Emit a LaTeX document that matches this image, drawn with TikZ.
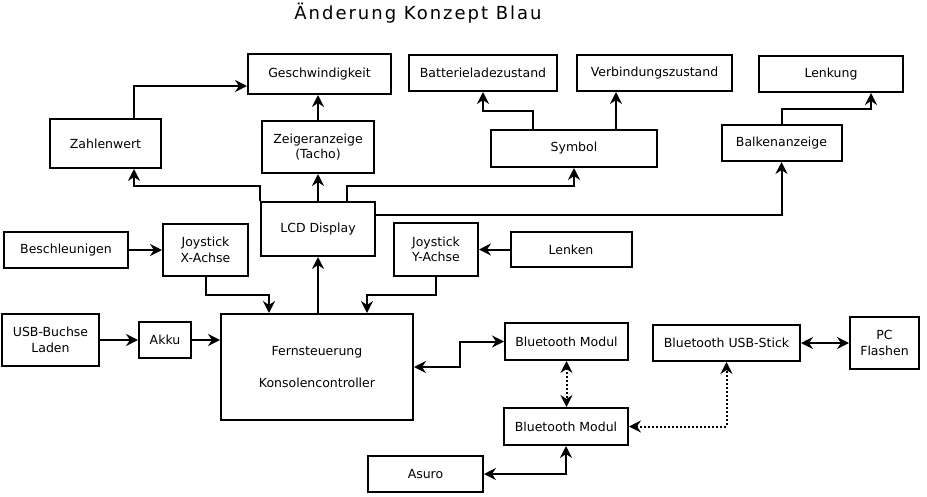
\documentclass[tikz,border=0pt]{standalone}
\usepackage{fontspec}
\setmainfont{DejaVu Sans}
\newfontfamily\titlefont[LetterSpace=11]{DejaVu Sans}
\usetikzlibrary{arrows.meta}
\begin{document}
\begin{tikzpicture}[x=1pt,y=-1pt,
  box/.style={draw, line width=2pt, inner sep=0pt, align=center,
    font=\fontsize{12.5}{15.6}\selectfont},
  conn/.style={line width=2pt},
  arr/.style={conn, -{Stealth[length=12pt,width=12pt,inset=4pt]}},
  darr/.style={conn, {Stealth[length=12pt,width=12pt,inset=4pt]}-{Stealth[length=12pt,width=12pt,inset=4pt]}},
  dotline/.style={dash pattern=on 2pt off 2pt}]
\useasboundingbox[fill=white] (0,0) rectangle (927,496);

\node[anchor=base, font=\titlefont\fontsize{18}{21}\selectfont] (title) at (418,19) {Änderung Konzept Blau};

\node[box, minimum width=143pt, minimum height=40pt] (gesch) at (319.5,74) {Geschwindigkeit};
\node[box, minimum width=111pt, minimum height=49pt] (zahl) at (105.5,143.5) {Zahlenwert};
\node[box, minimum width=112pt, minimum height=52pt] (zeig) at (318,147) {Zeigeranzeige\\(Tacho)};
\node[box, minimum width=114pt, minimum height=54pt] (lcd) at (318,229) {LCD Display};
\node[box, minimum width=148pt, minimum height=36pt] (batt) at (483,73) {Batterieladezustand};
\node[box, minimum width=155pt, minimum height=36pt] (verb) at (654.5,73) {Verbindungszustand};
\node[box, minimum width=144pt, minimum height=36pt] (lenk) at (831,74) {Lenkung};
\node[box, minimum width=166pt, minimum height=37pt] (symbol) at (574,148.5) {Symbol};
\node[box, minimum width=120pt, minimum height=36pt] (balken) at (781.5,143) {Balkenanzeige};
\node[box, minimum width=124pt, minimum height=36pt] (besch) at (66,250) {Beschleunigen};
\node[box, minimum width=85pt, minimum height=52pt] (joyx) at (205.5,250) {Joystick\\X-Achse};
\node[box, minimum width=84pt, minimum height=53pt] (joyy) at (436,249.5) {Joystick\\Y-Achse};
\node[box, minimum width=121pt, minimum height=35pt] (lenken) at (571,249.5) {Lenken};
\node[box, minimum width=97pt, minimum height=52pt] (usb) at (50.5,340) {USB-Buchse\\Laden};
\node[box, minimum width=52pt, minimum height=36pt] (akku) at (165,340) {Akku};
\node[box, minimum width=192pt, minimum height=106pt] (fern) at (317,367) {Fernsteuerung\\[15.6pt]Konsolencontroller};
\node[box, minimum width=115pt, minimum height=36pt] (asuro) at (425.5,474) {Asuro};
\node[box, minimum width=123pt, minimum height=37pt] (bt1) at (566.5,341.5) {Bluetooth Modul};
\node[box, minimum width=124pt, minimum height=37pt] (bt2) at (566,426.5) {Bluetooth Modul};
\node[box, minimum width=147pt, minimum height=36pt] (btusb) at (726.5,343) {Bluetooth USB-Stick};
\node[box, minimum width=69pt, minimum height=52pt] (pc) at (884.5,343) {PC\\Flashen};

% upper display tree
\draw[arr] ([xshift=28.5]zahl.north) |- ([yshift=-12]gesch.west);
\draw[arr] (zeig.north) -- (zeig.north |- gesch.south);
\draw[arr] (lcd.north) -- (zeig.south);
\draw[arr] (lcd.north west) -- ++(0,-15) -| ([xshift=28.5]zahl.south);
\draw[arr] ([xshift=29]lcd.north) -- ++(0,-15) -| (symbol.south);
\draw[arr] ([yshift=14]lcd.east) -| (balken.south);
\draw[arr] ([xshift=-41]symbol.north) -- ++(0,-18) -| (batt.south);
\coordinate (s2) at ([xshift=42]symbol.north);
\draw[arr] (s2) -- (s2 |- verb.south);
\draw[arr] (balken.north) -- ++(0,-15) -| ([xshift=40]lenk.south);

% inputs
\draw[arr] (besch.east) -- (joyx.west);
\draw[arr] (joyx.south) -- ++(0,18) -| ([xshift=-48]fern.north);
\draw[arr] ([xshift=1]fern.north) -- ([xshift=1]fern.north |- lcd.south);
\draw[arr] (joyy.south) -- ++(0,18) -| ([xshift=50]fern.north);
\draw[arr] (lenken.west) -- (joyy.east);
\draw[arr] (usb.east) -- (akku.west);
\draw[arr] (akku.east) -- (akku.east -| fern.west);

% bluetooth
\draw[darr] (fern.east) -- ++(46,0) |- (bt1.west);
\draw[darr, dotline] (bt1.south) -- (bt1.south |- bt2.north);
\draw[darr, dotline] (bt2.east) -| (btusb.south);
\draw[darr] (btusb.east) -- (pc.west);
\draw[darr] (bt2.south) |- (asuro.east);
\end{tikzpicture}
\end{document}
